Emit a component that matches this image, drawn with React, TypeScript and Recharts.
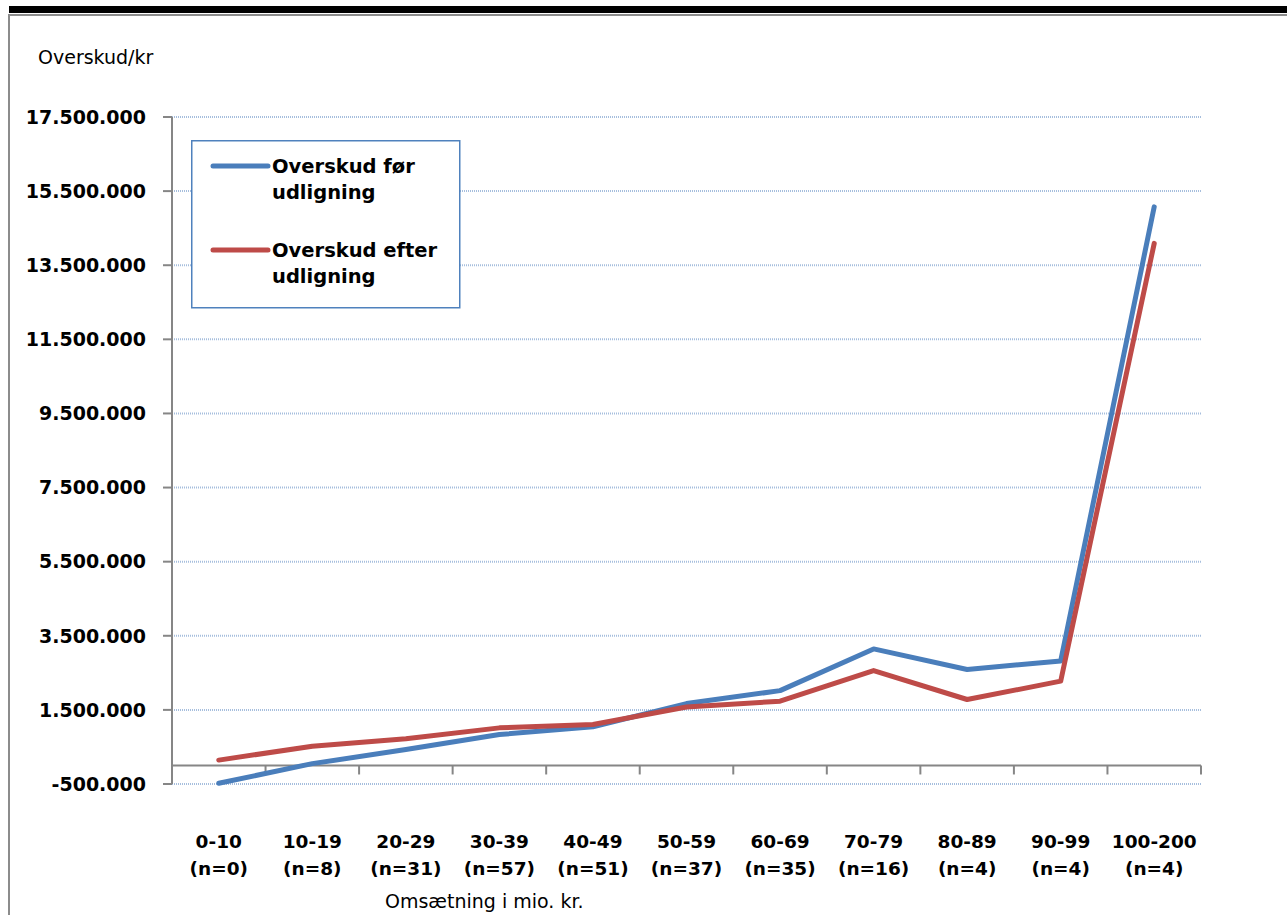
import React from 'react';
import {
  CartesianGrid,
  Legend,
  Line,
  LineChart,
  ReferenceLine,
  XAxis,
  YAxis,
} from 'recharts';

const ranges = ['0-10', '10-19', '20-29', '30-39', '40-49', '50-59', '60-69', '70-79', '80-89', '90-99', '100-200'];
const counts = [0, 8, 31, 57, 51, 37, 35, 16, 4, 4, 4];
const beforeValues = [-480000, 50000, 430000, 835000, 1045000, 1670000, 2020000, 3145000, 2590000, 2820000, 15075000];
const afterValues = [145000, 520000, 720000, 1015000, 1105000, 1580000, 1735000, 2560000, 1780000, 2275000, 14090000];
const yTicks = [-500000, 1500000, 3500000, 5500000, 7500000, 9500000, 11500000, 13500000, 15500000, 17500000];

const BEFORE = 'Overskud før udligning';
const AFTER = 'Overskud efter udligning';
const seriesOrder = [BEFORE, AFTER];

const data = ranges.map((range, i) => ({
  range,
  n: counts[i],
  [BEFORE]: beforeValues[i],
  [AFTER]: afterValues[i],
}));

const FONT = '"DejaVu Sans", sans-serif';
const AXIS_GRAY = '#868686';
const BLUE = '#4A7EBB';
const RED = '#BE4B48';

// dansk tusindtalsseparator: 17.500.000
const formatKr = (v: number): string => {
  const s = Math.abs(v).toString().replace(/\B(?=(\d{3})+(?!\d))/g, '.');
  return (v < 0 ? '-' : '') + s;
};

const CategoryTick = (props: any) => {
  const { x, y, payload } = props;
  const idx = ranges.indexOf(payload.value);
  return (
    <g>
      <text x={x} y={y + 64} textAnchor="middle" fontFamily={FONT} fontWeight="bold" fontSize={18.5} fill="#000">
        {payload.value}
      </text>
      <text x={x} y={y + 91} textAnchor="middle" fontFamily={FONT} fontWeight="bold" fontSize={18.5} fill="#000">
        {`(n=${counts[idx]})`}
      </text>
    </g>
  );
};

// x-aksen ligger ved 0, med tickmarks mellem kategorierne
const ZeroAxis = (props: any) => {
  const { x1, y1, x2 } = props;
  const step = (x2 - x1) / ranges.length;
  const marks = [];
  for (let i = 0; i <= ranges.length; i++) {
    const tx = x1 + i * step;
    marks.push(<line key={i} x1={tx} x2={tx} y1={y1} y2={y1 + 9} stroke={AXIS_GRAY} strokeWidth={2} />);
  }
  return (
    <g>
      <line x1={x1} x2={x2} y1={y1} y2={y1} stroke={AXIS_GRAY} strokeWidth={2} />
      {marks}
    </g>
  );
};

const LegendBox = (props: any) => {
  const payload = [...(props.payload ?? [])].sort(
    (a: any, b: any) => seriesOrder.indexOf(String(a.value)) - seriesOrder.indexOf(String(b.value)),
  );
  return (
    <svg width={270} height={169} style={{ display: 'block' }}>
      <rect x={0.75} y={0.75} width={268} height={167} fill="#fff" stroke="#4F81BD" strokeWidth={1.5} />
      {payload.map((entry: any, i: number) => {
        const name = String(entry.value);
        const cut = name.lastIndexOf(' ');
        const top = i * 84;
        return (
          <g key={name}>
            <line x1={22} x2={77} y1={top + 26} y2={top + 26} stroke={entry.color} strokeWidth={5} strokeLinecap="round" />
            <text x={81} y={top + 33} fontFamily={FONT} fontWeight="bold" fontSize={19.5} fill="#000">
              {name.slice(0, cut)}
            </text>
            <text x={81} y={top + 59} fontFamily={FONT} fontWeight="bold" fontSize={19.5} fill="#000">
              {name.slice(cut + 1)}
            </text>
          </g>
        );
      })}
    </svg>
  );
};

export default function App() {
  return (
    <div style={{ position: 'absolute', left: 0, top: 0, width: 1287, height: 915, overflow: 'hidden', background: '#fff' }}>
      <div style={{ position: 'absolute', left: 9, top: 6, width: 1290, height: 6.5, background: '#000' }} />
      <div style={{ position: 'absolute', left: 8, top: 14, width: 1290, height: 2, background: '#8c8c8c' }} />
      <div style={{ position: 'absolute', left: 8, top: 14, width: 2, height: 905, background: '#8c8c8c' }} />

      <div style={{ position: 'absolute', left: 38, top: 46, fontFamily: FONT, fontSize: 19, color: '#000', whiteSpace: 'nowrap' }}>
        Overskud/kr
      </div>

      <div style={{ position: 'absolute', left: 0, top: 0 }}>
        <LineChart width={1287} height={915} data={data} margin={{ top: 117, right: 86, bottom: 31, left: 72 }}>
          <CartesianGrid vertical={false} stroke="#A6BEDD" strokeDasharray="1 1" strokeWidth={2} />
          <XAxis
            dataKey="range"
            scale="band"
            axisLine={false}
            tickLine={false}
            tickSize={0}
            tickMargin={0}
            height={100}
            interval={0}
            tick={<CategoryTick />}
          />
          <YAxis
            type="number"
            domain={[-500000, 17500000]}
            ticks={yTicks}
            interval={0}
            width={100}
            tickFormatter={formatKr}
            axisLine={{ stroke: AXIS_GRAY, strokeWidth: 2 }}
            tickLine={{ stroke: AXIS_GRAY, strokeWidth: 2 }}
            tickSize={9}
            tickMargin={17}
            tick={{ fontFamily: FONT, fontWeight: 'bold', fontSize: 19, fill: '#000' }}
          />
          <ReferenceLine y={0} shape={ZeroAxis} />
          <Legend
            layout="horizontal"
            verticalAlign="middle"
            align="center"
            content={<LegendBox />}
            wrapperStyle={{ position: 'absolute', left: 191, top: 140, width: 270, height: 169 }}
          />
          <Line
            type="linear"
            dataKey={BEFORE}
            stroke={BLUE}
            strokeWidth={5}
            strokeLinecap="round"
            strokeLinejoin="round"
            dot={false}
            activeDot={false}
            isAnimationActive={false}
          />
          <Line
            type="linear"
            dataKey={AFTER}
            stroke={RED}
            strokeWidth={5}
            strokeLinecap="round"
            strokeLinejoin="round"
            dot={false}
            activeDot={false}
            isAnimationActive={false}
          />
        </LineChart>
      </div>

      <div style={{ position: 'absolute', left: 385, top: 890, fontFamily: FONT, fontSize: 19, color: '#000', whiteSpace: 'nowrap' }}>
        Omsætning i mio. kr.
      </div>
    </div>
  );
}
